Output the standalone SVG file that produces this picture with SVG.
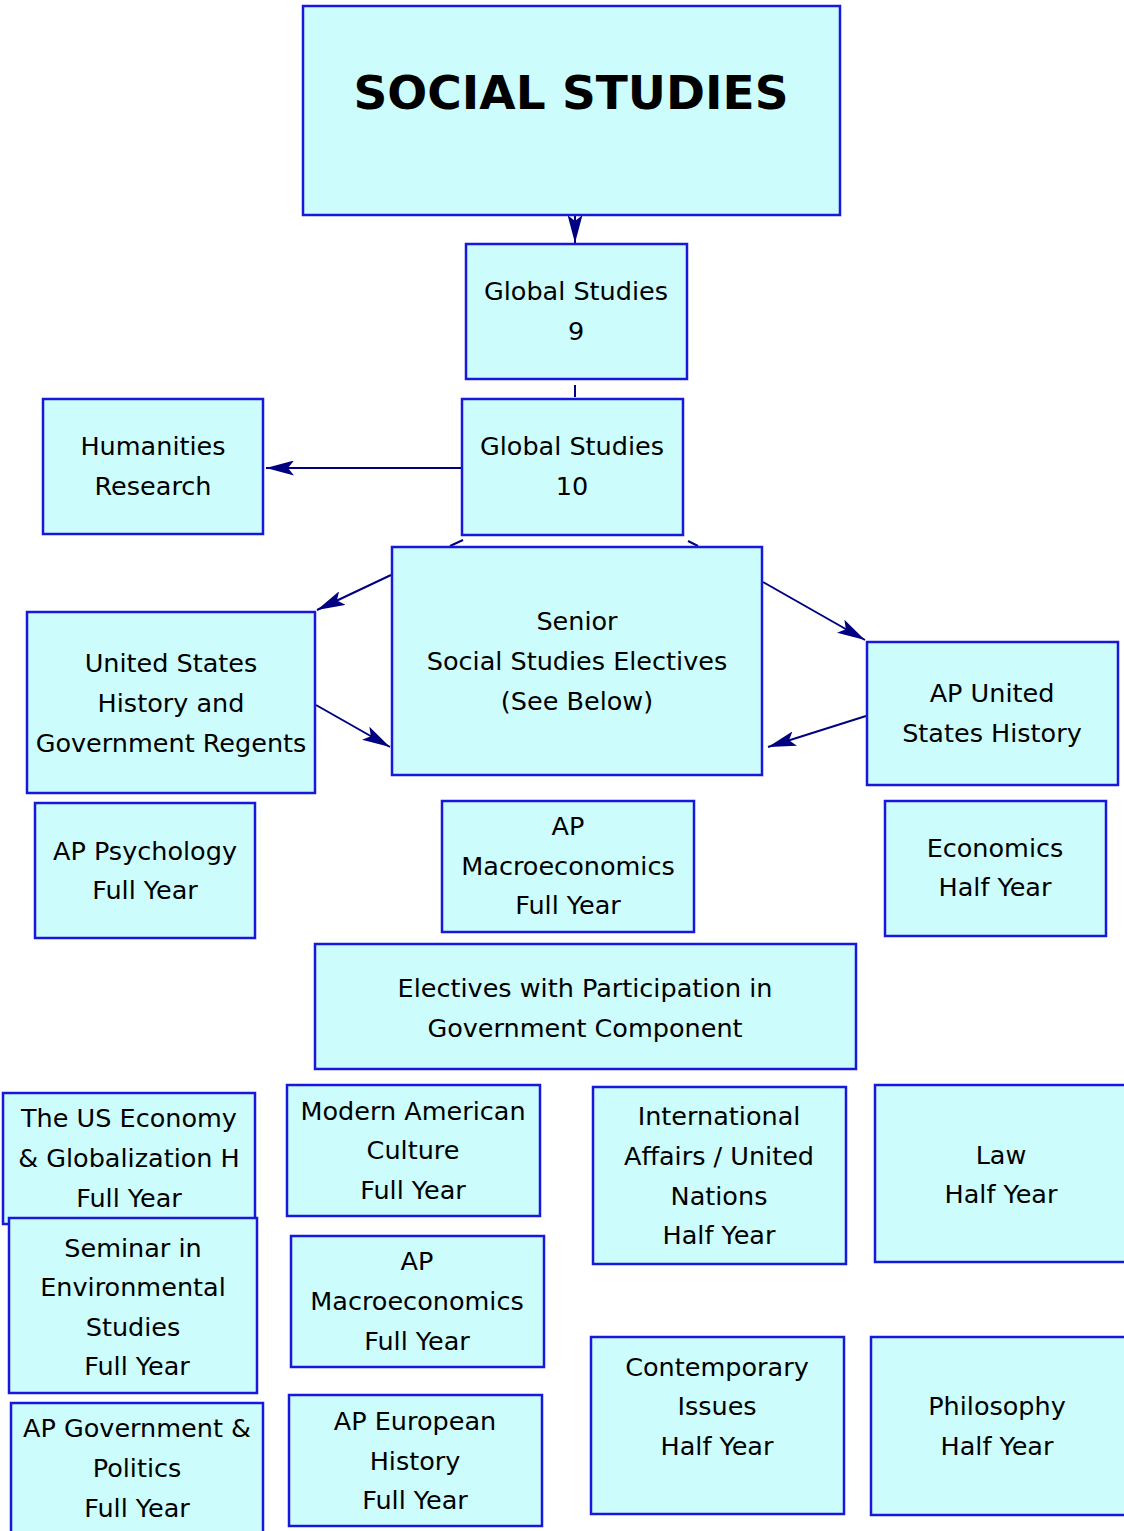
<svg xmlns="http://www.w3.org/2000/svg" width="1124" height="1531" viewBox="0 0 1124 1531">
  <defs>
    <marker id="arrow" viewBox="0 0 28 15" refX="28" refY="7.5" markerWidth="28" markerHeight="15" markerUnits="userSpaceOnUse" orient="auto">
      <path d="M0,0 L28,7.5 L0,15 L6,7.5 Z" fill="#000080"/>
    </marker>
    <style>
      .box { fill: #ccfcfc; stroke: #1818dc; stroke-width: 2.5; }
      .lbl { font-family: "Comic Sans MS", "DejaVu Sans", sans-serif; font-size: 25.5px; fill: #000; text-anchor: middle; }
      .title { font-family: "Comic Sans MS", "DejaVu Sans", sans-serif; font-size: 47px; font-weight: bold; fill: #000; text-anchor: middle; }
      .conn { stroke: #000080; stroke-width: 2; fill: none; }
    </style>
  </defs>
  <rect width="1124" height="1531" fill="#ffffff"/>

  <!-- connectors -->
  <g id="connectors">
    <line class="conn" x1="575" y1="215" x2="575" y2="243" marker-end="url(#arrow)"/>
    <line class="conn" x1="575" y1="385" x2="575" y2="397"/>
    <line class="conn" x1="461" y1="468" x2="266" y2="468" marker-end="url(#arrow)"/>
    <line class="conn" x1="463" y1="540" x2="450" y2="546"/>
    <line class="conn" x1="688" y1="541" x2="698" y2="546"/>
    <line class="conn" x1="391" y1="575" x2="317" y2="610" marker-end="url(#arrow)"/>
    <line class="conn" x1="316" y1="705" x2="390" y2="747" marker-end="url(#arrow)"/>
    <line class="conn" x1="763" y1="582" x2="865" y2="640" marker-end="url(#arrow)"/>
    <line class="conn" x1="866" y1="716" x2="768" y2="747" marker-end="url(#arrow)"/>
  </g>

  <!-- nodes -->
  <g id="social-studies">
    <rect class="box" x="303" y="6" width="537" height="209"/>
    <text class="title" x="571" y="109">SOCIAL STUDIES</text>
  </g>
  <g id="global-studies-9">
    <rect class="box" x="466" y="244" width="221" height="135"/>
    <text class="lbl" x="576" y="300">Global Studies</text>
    <text class="lbl" x="576" y="340">9</text>
  </g>
  <g id="global-studies-10">
    <rect class="box" x="462" y="399" width="221" height="136"/>
    <text class="lbl" x="572" y="455">Global Studies</text>
    <text class="lbl" x="572" y="495">10</text>
  </g>
  <g id="humanities-research">
    <rect class="box" x="43" y="399" width="220" height="135"/>
    <text class="lbl" x="153" y="455">Humanities</text>
    <text class="lbl" x="153" y="495">Research</text>
  </g>
  <g id="senior-electives">
    <rect class="box" x="392" y="547" width="370" height="228"/>
    <text class="lbl" x="577" y="630">Senior</text>
    <text class="lbl" x="577" y="670">Social Studies Electives</text>
    <text class="lbl" x="577" y="710">(See Below)</text>
  </g>
  <g id="us-history-regents">
    <rect class="box" x="27" y="612" width="288" height="181"/>
    <text class="lbl" x="171" y="672">United States</text>
    <text class="lbl" x="171" y="712">History and</text>
    <text class="lbl" x="171" y="752">Government Regents</text>
  </g>
  <g id="ap-us-history">
    <rect class="box" x="867" y="642" width="251" height="143"/>
    <text class="lbl" x="992" y="702">AP United</text>
    <text class="lbl" x="992" y="742">States History</text>
  </g>
  <g id="ap-psychology">
    <rect class="box" x="35" y="803" width="220" height="135"/>
    <text class="lbl" x="145" y="860">AP Psychology</text>
    <text class="lbl" x="145" y="899">Full Year</text>
  </g>
  <g id="ap-macroeconomics-1">
    <rect class="box" x="442" y="801" width="252" height="131"/>
    <text class="lbl" x="568" y="835">AP</text>
    <text class="lbl" x="568" y="875">Macroeconomics</text>
    <text class="lbl" x="568" y="914">Full Year</text>
  </g>
  <g id="economics">
    <rect class="box" x="885" y="801" width="221" height="135"/>
    <text class="lbl" x="995" y="857">Economics</text>
    <text class="lbl" x="995" y="896">Half Year</text>
  </g>
  <g id="participation-electives">
    <rect class="box" x="315" y="944" width="541" height="125"/>
    <text class="lbl" x="585" y="997">Electives with Participation in</text>
    <text class="lbl" x="585" y="1037">Government Component</text>
  </g>
  <g id="us-economy">
    <rect class="box" x="3" y="1093" width="252" height="131"/>
    <text class="lbl" x="129" y="1127">The US Economy</text>
    <text class="lbl" x="129" y="1167">&amp; Globalization H</text>
    <text class="lbl" x="129" y="1207">Full Year</text>
  </g>
  <g id="environmental-seminar">
    <rect class="box" x="9" y="1218" width="248" height="175"/>
    <text class="lbl" x="133" y="1257">Seminar in</text>
    <text class="lbl" x="133" y="1296">Environmental</text>
    <text class="lbl" x="133" y="1336">Studies</text>
    <text class="lbl" x="137" y="1375">Full Year</text>
  </g>
  <g id="ap-government">
    <rect class="box" x="11" y="1403" width="252" height="140"/>
    <text class="lbl" x="137" y="1437">AP Government &amp;</text>
    <text class="lbl" x="137" y="1477">Politics</text>
    <text class="lbl" x="137" y="1517">Full Year</text>
  </g>
  <g id="modern-american-culture">
    <rect class="box" x="287" y="1085" width="253" height="131"/>
    <text class="lbl" x="413" y="1120">Modern American</text>
    <text class="lbl" x="413" y="1159">Culture</text>
    <text class="lbl" x="413" y="1199">Full Year</text>
  </g>
  <g id="ap-macroeconomics-2">
    <rect class="box" x="291" y="1236" width="253" height="131"/>
    <text class="lbl" x="417" y="1270">AP</text>
    <text class="lbl" x="417" y="1310">Macroeconomics</text>
    <text class="lbl" x="417" y="1350">Full Year</text>
  </g>
  <g id="ap-european-history">
    <rect class="box" x="289" y="1395" width="253" height="131"/>
    <text class="lbl" x="415" y="1430">AP European</text>
    <text class="lbl" x="415" y="1470">History</text>
    <text class="lbl" x="415" y="1509">Full Year</text>
  </g>
  <g id="international-affairs">
    <rect class="box" x="593" y="1087" width="253" height="177"/>
    <text class="lbl" x="719" y="1125">International</text>
    <text class="lbl" x="719" y="1165">Affairs / United</text>
    <text class="lbl" x="719" y="1205">Nations</text>
    <text class="lbl" x="719" y="1244">Half Year</text>
  </g>
  <g id="contemporary-issues">
    <rect class="box" x="591" y="1337" width="253" height="177"/>
    <text class="lbl" x="717" y="1376">Contemporary</text>
    <text class="lbl" x="717" y="1415">Issues</text>
    <text class="lbl" x="717" y="1455">Half Year</text>
  </g>
  <g id="law">
    <rect class="box" x="875" y="1085" width="260" height="177"/>
    <text class="lbl" x="1001" y="1164">Law</text>
    <text class="lbl" x="1001" y="1203">Half Year</text>
  </g>
  <g id="philosophy">
    <rect class="box" x="871" y="1337" width="264" height="178"/>
    <text class="lbl" x="997" y="1415">Philosophy</text>
    <text class="lbl" x="997" y="1455">Half Year</text>
  </g>
</svg>
